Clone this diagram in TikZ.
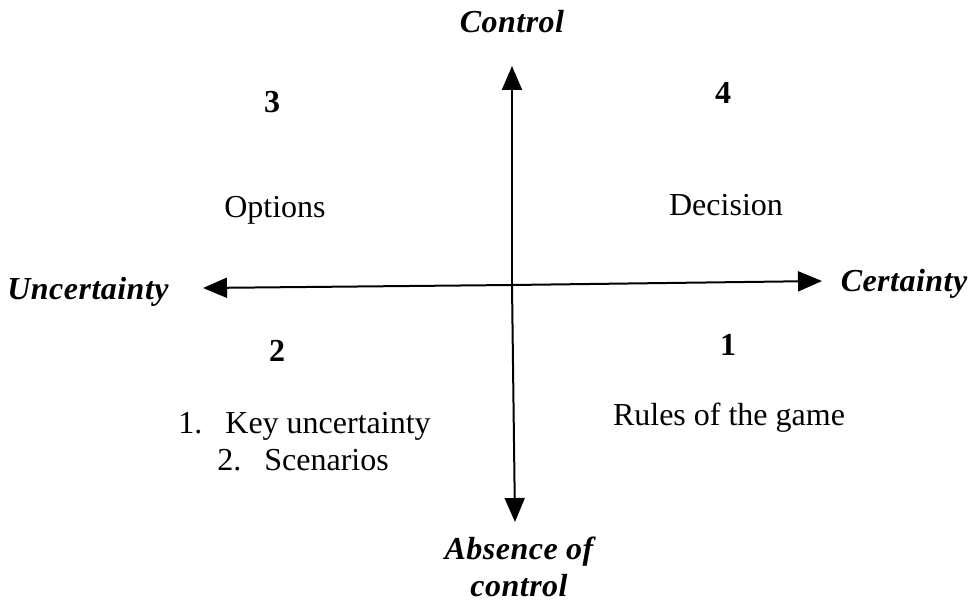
\documentclass[tikz,border=0pt]{standalone}
\usepackage{fontspec}
\setmainfont{Liberation Serif}
\usetikzlibrary{arrows.meta}
\begin{document}
\begin{tikzpicture}[x=0.5pt,y=-0.5pt,
  axis/.style={line width=1pt,-{Triangle[length=12pt,width=10pt]}},
  axlabel/.style={font=\fontsize{16}{18.5}\selectfont\bfseries\itshape\addfontfeature{LetterSpace=1.5}, align=center, inner sep=0pt},
  body/.style={font=\fontsize{16}{19}\selectfont, inner sep=0pt},
  num/.style={font=\fontsize{16}{19}\selectfont\bfseries, inner sep=0pt}]
\useasboundingbox (0,0) rectangle (968,604);
\coordinate (O) at (512,285);
\coordinate (top) at (512,66);
\coordinate (bot) at (515,522);
\coordinate (lft) at (203,288);
\coordinate (rgt) at (822,281);
\draw[axis] (O) -- (top);
\draw[axis] (O) -- (bot);
\draw[axis] (O) -- (lft);
\draw[axis] (O) -- (rgt);
\node[axlabel] (ctrl) at (512,22) {Control};
\node[axlabel] (unc) at (88,292) {Uncertainty};
\node[axlabel] (cert) at (904,284) {Certainty};
\node[axlabel] (abs) at (519,567) {Absence of\\control};
\node[num] (n3) at (272,102) {3};
\node[num] (n4) at (723,93) {4};
\node[num] (n2) at (277,351) {2};
\node[num] (n1) at (728,345) {1};
\node[body] (opt) at (275,210) {Options};
\node[body] (dec) at (726,205) {Decision};
\node[body] (rules) at (729,418) {Rules of the game};
\node[body,anchor=base west] (k1n) at (178,433) {1.};
\node[body,anchor=base west] (k1) at (225,433) {Key uncertainty};
\node[body,anchor=base west] (k2n) at (217,470) {2.};
\node[body,anchor=base west] (k2) at (264,470) {Scenarios};
\end{tikzpicture}
\end{document}
